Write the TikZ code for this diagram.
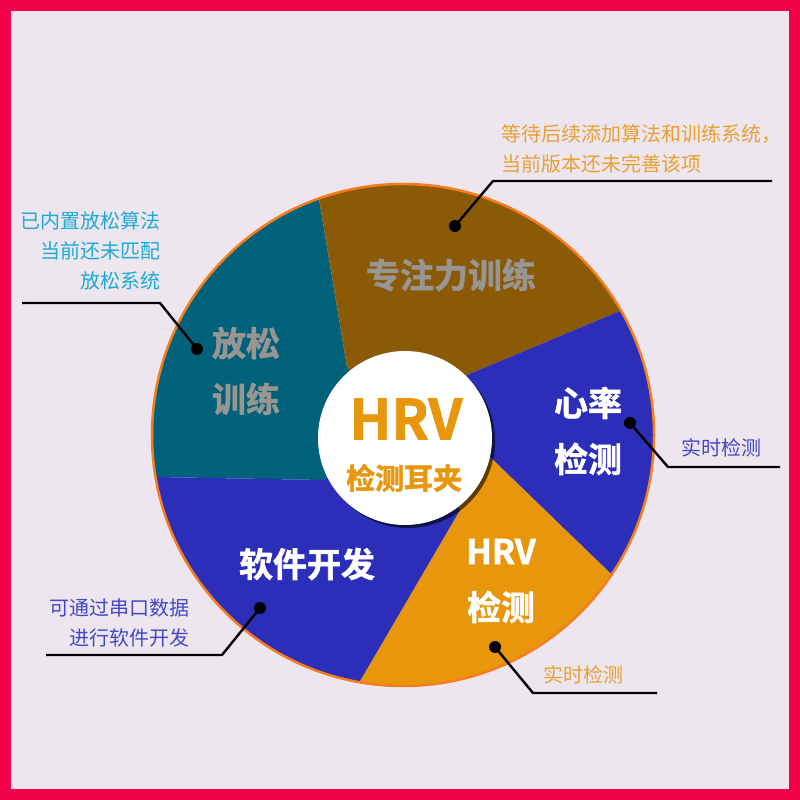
\documentclass[tikz,border=0pt]{standalone}
\usepackage{fontspec}
\setmainfont{Noto Sans CJK SC}[BoldFont={Noto Sans CJK SC Bold}]
\newfontfamily\heavyfont{Noto Sans CJK SC Bold}[FakeBold=1.6]
\usepackage{xcolor}
\definecolor{framered}{RGB}{240,0,72}
\definecolor{bglav}{RGB}{237,230,238}
\definecolor{relaxteal}{RGB}{0,98,122}
\definecolor{focusbrown}{RGB}{139,90,6}
\definecolor{pieblue}{RGB}{44,46,186}
\definecolor{pieorange}{RGB}{232,150,12}
\definecolor{rimorange}{RGB}{245,125,30}
\definecolor{notecyan}{RGB}{30,170,215}
\definecolor{noteblue}{RGB}{70,70,200}
\definecolor{noteorange}{RGB}{232,160,50}
\definecolor{labelgray}{RGB}{152,150,146}
\usepackage{tikz}
\usetikzlibrary{positioning}

\begin{document}
\begin{tikzpicture}[
  x=1pt, y=1pt,
  bigword/.style={font=\fontsize{34}{56}\selectfont\heavyfont, align=center},
  note/.style={font=\fontsize{20}{30}\selectfont},
  pin/.style={circle, fill=black, inner sep=0pt, minimum size=12pt},
  leader/.style={black, line width=2.4pt},
  rimline/.style={draw=rimorange, line width=2.5pt},
]
\useasboundingbox (0,0) rectangle (800,800);

% Frame
\fill[framered] (0,0) rectangle (800,800);
\fill[bglav] (11,11) rectangle (789,789);

% Pie geometry
\coordinate (o) at (403,365);
\coordinate (c) at (405,362);
\coordinate (i1) at (347,433); \coordinate (e1) at (291,769);
\coordinate (i2) at (467,425); \coordinate (e2) at (773,553);
\coordinate (i3) at (490,343); \coordinate (e3) at (730,111);
\coordinate (i4) at (460,290); \coordinate (e4) at (260,-52);
\coordinate (i5) at (323,320); \coordinate (e5) at (-13,326);

% Sectors
\begin{scope}
  \clip (o) circle (251);
  \fill[relaxteal] (c) -- (i5) -- (e5) -- (-13,769) -- (e1) -- (i1) -- cycle;
  \fill[focusbrown] (c) -- (i1) -- (e1) -- (773,769) -- (e2) -- (i2) -- cycle;
  \fill[pieblue] (c) -- (i2) -- (e2) -- (e3) -- (i3) -- cycle;
  \fill[pieorange] (c) -- (i3) -- (e3) -- (730,-52) -- (e4) -- (i4) -- cycle;
  \fill[pieblue] (c) -- (i4) -- (e4) -- (-13,-52) -- (e5) -- (i5) -- cycle;
\end{scope}
\draw[rimline] (o) circle (251);

% Sector labels
\node[bigword, text=labelgray] (focus) at (451,525) {专注力训练};
\node[bigword, text=labelgray] (relax) at (246,429) {放松\\训练};
\node[bigword, text=white] (heart) at (588,369) {心率\\检测};
\node[bigword, text=white] (hrvdet) at (501,219) {HRV\\检测};
\node[bigword, text=white] (soft) at (307,236) {软件开发};

% Hub
\fill[black, opacity=.6] (408,359) circle (87);
\node[circle, fill=white, minimum size=174pt, inner sep=0pt] (hub) at (c) {};
\node[font=\fontsize{55}{60}\selectfont\heavyfont, text=pieorange] (hubtitle) at (406,381) {HRV};
\node[font=\fontsize{29}{32}\selectfont\heavyfont, text=pieorange] (hubsub) at (404,322) {检测耳夹};

% Pins
\node[pin] (relaxpin) at (197,451) {};
\node[pin] (focuspin) at (455,574) {};
\node[pin] (heartpin) at (630,377) {};
\node[pin] (softpin) at (260,192) {};
\node[pin] (hrvpin) at (495,153) {};

% Leader lines
\coordinate (relaxend) at (22,497);   \coordinate (relaxbend) at (160,497);
\coordinate (focusend) at (772,619);  \coordinate (focusbend) at (493,619);
\coordinate (heartend) at (780,333);  \coordinate (heartbend) at (668,333);
\coordinate (softend) at (46,145);    \coordinate (softbend) at (222,145);
\coordinate (hrvend) at (657,107);    \coordinate (hrvbend) at (533,107);
\draw[leader] (relaxend) -- (relaxbend) -- (relaxpin.center);
\draw[leader] (focusend) -- (focusbend) -- (focuspin.center);
\draw[leader] (heartend) -- (heartbend) -- (heartpin.center);
\draw[leader] (softend) -- (softbend) -- (softpin.center);
\draw[leader] (hrvend) -- (hrvbend) -- (hrvpin.center);

% Notes
\node[note, text=notecyan, align=right, anchor=east] (relaxnote) at (164,549)
  {已内置放松算法\\当前还未匹配\\放松系统};
\node[note, text=noteorange, align=left, anchor=west] (focusnote) at (498,651)
  {等待后续添加算法和训练系统，\\当前版本还未完善该项};
\node[note, text=noteblue] (heartnote) at (721,352) {实时检测};
\node[note, text=noteblue, align=right, anchor=east] (softnote) at (193,177)
  {可通过串口数据\\进行软件开发};
\node[note, text=noteorange] (hrvnote) at (583,125) {实时检测};

\end{tikzpicture}
\end{document}
